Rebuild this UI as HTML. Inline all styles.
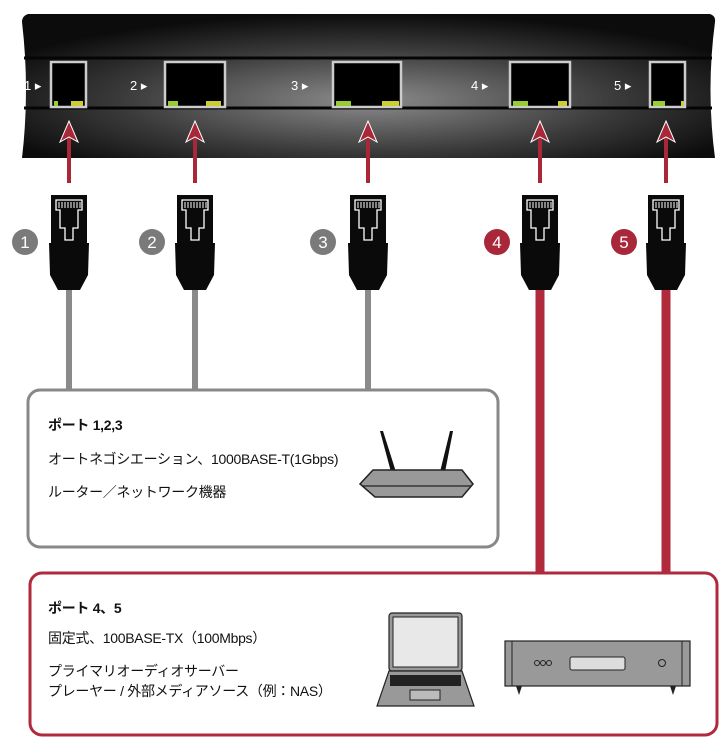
<!DOCTYPE html>
<html><head><meta charset="utf-8"><style>
body{margin:0;background:#fff;width:722px;height:750px;overflow:hidden;position:relative;font-family:"Liberation Sans","Noto Sans CJK JP",sans-serif;}
.t{position:absolute;font-size:14px;color:#111;white-space:nowrap;letter-spacing:-0.3px}
.b{font-weight:bold}
</style></head><body>
<svg width="722" height="750" style="position:absolute;left:0;top:0">
<defs>
<radialGradient id="g" cx="0.5" cy="0.6" r="0.6">
<stop offset="0" stop-color="#8c8c8c"/><stop offset="0.6" stop-color="#3a3a3a"/><stop offset="1" stop-color="#0c0c0c"/>
</radialGradient>
<g id="plug">
<rect x="-18" y="195" width="36" height="48" fill="#0a0a0a"/>
<path d="M-20 243 L20 243 L19 275 L11 290 L-11 290 L-19 275 Z" fill="#0a0a0a"/>
<path d="M-13 200 L13 200 L13 210 L9 210 L9 228 L4 228 L4 240 L-4 240 L-4 228 L-9 228 L-9 210 L-13 210 Z" fill="none" stroke="#fff" stroke-width="1.3"/>
<path d="M-10 202 V208 M-7 202 V208 M-4 202 V208 M-1 202 V208 M2 202 V208 M5 202 V208 M8 202 V208 M11 202 V208" stroke="#fff" stroke-width="1"/>
</g>
<g id="arrow">
<line x1="0" y1="183" x2="0" y2="135" stroke="#a8283a" stroke-width="4"/>
<path d="M-9 142 L0 121 L9 142 L0 137 Z" fill="#a8283a" stroke="#fff" stroke-width="1"/>
</g>
</defs>
<path d="M28 14 L710 14 Q716 16 715 22 Q706 90 715 158 L22 158 Q30 90 22 22 Q22 16 28 14 Z" fill="url(#g)"/>
<line x1="24" y1="58" x2="712" y2="58" stroke="#050505" stroke-width="3"/>
<line x1="24" y1="108" x2="712" y2="108" stroke="#050505" stroke-width="3"/>
<g fill="#000" stroke="#ccc" stroke-width="2.5">
<rect x="51" y="62" width="35" height="45"/>
<rect x="165" y="62" width="60" height="45"/>
<rect x="333" y="62" width="68" height="45"/>
<rect x="510" y="62" width="60" height="45"/>
<rect x="650" y="62" width="35" height="45"/>
</g>
<g fill="#9c3">
<rect x="54" y="101" width="4" height="5"/><rect x="71" y="101" width="12" height="5" fill="#cc3"/>
<rect x="168" y="101" width="10" height="5"/><rect x="206" y="101" width="15" height="5" fill="#cc3"/>
<rect x="336" y="101" width="15" height="5"/><rect x="382" y="101" width="17" height="5" fill="#cc3"/>
<rect x="513" y="101" width="15" height="5"/><rect x="558" y="101" width="9" height="5" fill="#cc3"/>
<rect x="653" y="101" width="12" height="5"/><rect x="681" y="101" width="3" height="5" fill="#cc3"/>
</g>
<g fill="#fff" font-size="13" font-family="Liberation Sans">
<text x="24" y="90">1 ▸</text><text x="130" y="90">2 ▸</text><text x="291" y="90">3 ▸</text><text x="471" y="90">4 ▸</text><text x="614" y="90">5 ▸</text>
</g>
<use href="#arrow" x="69"/><use href="#arrow" x="195"/><use href="#arrow" x="368"/><use href="#arrow" x="540"/><use href="#arrow" x="666"/>
<g stroke="#8a8a8a" stroke-width="6">
<line x1="69" y1="288" x2="69" y2="390"/><line x1="195" y1="288" x2="195" y2="390"/><line x1="368" y1="288" x2="368" y2="390"/>
</g>
<g stroke="#b02a3c" stroke-width="9">
<line x1="540" y1="288" x2="540" y2="574"/><line x1="666" y1="288" x2="666" y2="574"/>
</g>
<use href="#plug" x="69"/><use href="#plug" x="195"/><use href="#plug" x="368"/><use href="#plug" x="540"/><use href="#plug" x="666"/>
<g font-size="17" fill="#fff" text-anchor="middle" font-family="Liberation Sans">
<circle cx="25" cy="242" r="13" fill="#7a7a7a"/><text x="25" y="248">1</text>
<circle cx="152" cy="242" r="13" fill="#7a7a7a"/><text x="152" y="248">2</text>
<circle cx="323" cy="242" r="13" fill="#7a7a7a"/><text x="323" y="248">3</text>
<circle cx="497" cy="242" r="13" fill="#a8283a"/><text x="497" y="248">4</text>
<circle cx="624" cy="242" r="13" fill="#a8283a"/><text x="624" y="248">5</text>
</g>
<rect x="28" y="390" width="470" height="157" rx="12" fill="#fff" stroke="#888" stroke-width="3"/>
<rect x="30" y="573" width="687" height="162" rx="12" fill="#fff" stroke="#b02a3c" stroke-width="3"/>
<!-- router -->
<path d="M380 431 L383 431 L396 472 L391 472 Z" fill="#111"/>
<path d="M450 431 L453 431 L445 472 L440 472 Z" fill="#111"/>
<path d="M373 470 L462 470 L473 484 L462 497 L375 497 L360 484 Z" fill="#999" stroke="#222" stroke-width="1.5"/>
<line x1="362" y1="486" x2="471" y2="486" stroke="#222" stroke-width="1.2"/>
<!-- laptop -->
<rect x="389" y="613" width="73" height="58" rx="3" fill="#999" stroke="#222" stroke-width="1.2"/>
<rect x="393" y="617" width="65" height="50" fill="#e8e8e8" stroke="#222"/>
<path d="M389 671 L462 671 L474 706 L377 706 Z" fill="#999" stroke="#222" stroke-width="1.2"/>
<rect x="390" y="675" width="71" height="11" fill="#222"/>
<rect x="410" y="690" width="30" height="10" fill="#bbb" stroke="#222"/>
<!-- player -->
<rect x="505" y="641" width="185" height="45" fill="#999" stroke="#222" stroke-width="1.2"/>
<line x1="512" y1="641" x2="512" y2="686" stroke="#222"/><line x1="682" y1="641" x2="682" y2="686" stroke="#222"/>
<rect x="570" y="657" width="55" height="13" rx="2" fill="#ddd" stroke="#222"/>
<g fill="none" stroke="#222"><circle cx="537" cy="663" r="2.5"/><circle cx="543" cy="663" r="2.5"/><circle cx="549" cy="663" r="2.5"/><circle cx="662" cy="663" r="3.5"/></g>
<path d="M516 686 L519 695 L522 686 M670 686 L673 695 L676 686" fill="#222"/>
</svg>
<div class="t b" style="left:48px;top:415px">ポート 1,2,3</div>
<div class="t" style="left:48px;top:449px">オートネゴシエーション、1000BASE-T(1Gbps)</div>
<div class="t" style="left:48px;top:482px">ルーター／ネットワーク機器</div>
<div class="t b" style="left:48px;top:598px">ポート 4、5</div>
<div class="t" style="left:48px;top:628px">固定式、100BASE-TX（100Mbps）</div>
<div class="t" style="left:48px;top:661px">プライマリオーディオサーバー</div>
<div class="t" style="left:48px;top:681px">プレーヤー / 外部メディアソース（例：NAS）</div>
</body></html>
